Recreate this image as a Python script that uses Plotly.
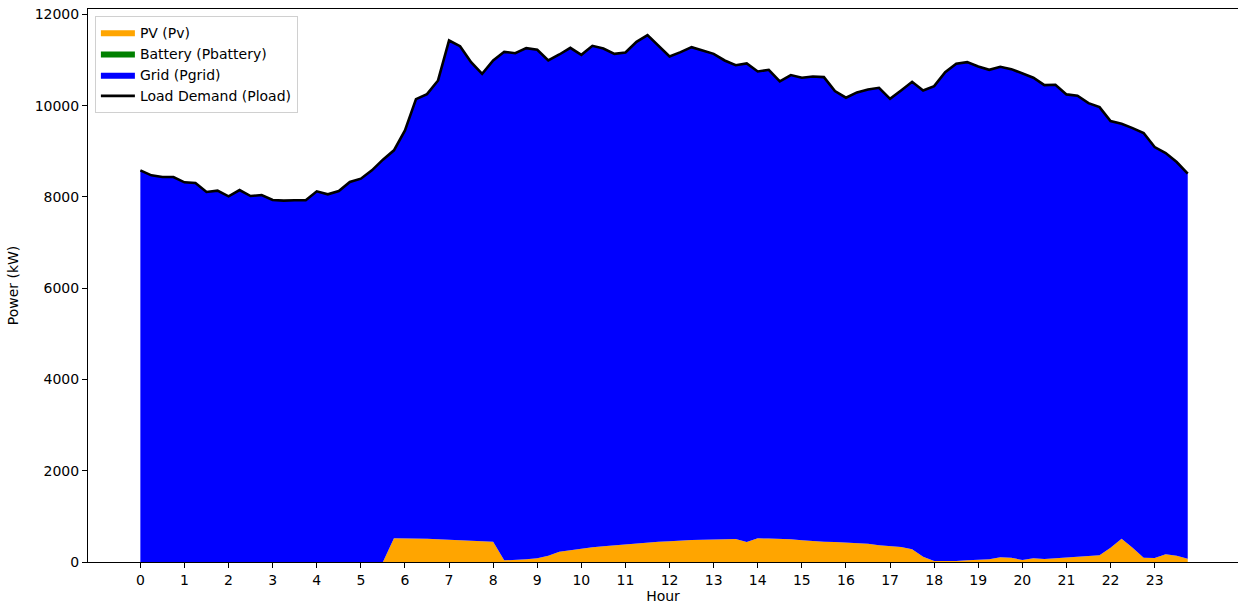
import plotly.graph_objects as go

# Time axis: 15-minute steps over one day (hours)
hours = [i * 0.25 for i in range(96)]

# Load demand (kW)
p_load = [
    8583, 8474, 8437, 8437, 8321, 8306, 8109, 8138,
    8014, 8152, 8021, 8043, 7934, 7920, 7927, 7927,
    8124, 8058, 8131, 8328, 8401, 8583, 8818, 9022,
    9459, 10145, 10254, 10554, 11430, 11305, 10955, 10700,
    10992, 11181, 11152, 11262, 11225, 10992, 11123, 11269,
    11116, 11313, 11254, 11137, 11167, 11400, 11546, 11305,
    11079, 11174, 11284, 11211, 11137, 10992, 10889, 10926,
    10751, 10788, 10532, 10671, 10613, 10642, 10627, 10320,
    10175, 10291, 10357, 10393, 10150, 10335, 10525, 10335,
    10430, 10737, 10919, 10955, 10861, 10788, 10853, 10802,
    10700, 10613, 10452, 10460, 10248, 10218, 10057, 9970,
    9663, 9605, 9510, 9401, 9094, 8963, 8766, 8511,
]

# PV output (kW)
p_pv = [
    0, 0, 0, 0, 0, 0, 0, 0,
    0, 0, 0, 0, 0, 0, 0, 0,
    0, 0, 0, 0, 0, 0, 0, 518,
    518, 518, 511, 500, 489, 478, 467, 456,
    445, 36, 44, 58, 80, 139, 226, 263,
    299, 321, 343, 365, 387, 409, 423, 442,
    453, 471, 482, 489, 496, 493, 504, 438,
    518, 515, 511, 496, 474, 456, 445, 438,
    431, 416, 401, 365, 340, 329, 277, 117,
    22, 15, 22, 36, 51, 58, 102, 95,
    44, 80, 66, 80, 88, 102, 131, 146,
    314, 511, 314, 95, 88, 168, 139, 73,
]

# Battery power (kW)
p_battery = [
    0, 0, 0, 0, 0, 0, 0, 0, 0, 0, 0, 0, 0, 0, 0, 0,
    0, 0, 0, 0, 0, 0, 0, 0, 0, 0, 0, 0, 0, 0, 0, 0,
    0, 0, 0, 0, 0, 0, 0, 0, 0, 0, 0, 0, 0, 0, 0, 0,
    0, 0, 0, 0, 0, 0, 0, 0, 0, 0, 0, 0, 0, 0, 0, 0,
    0, 0, 0, 0, 0, 0, 0, 0, 0, 0, 0, 0, 0, 0, 0, 0,
    0, 0, 0, 0, 0, 0, 0, 0, 0, 0, 0, 0, 0, 0, 0, 0,
]

# Grid import covers the remainder of the load
p_grid = [l - pv - b for l, pv, b in zip(p_load, p_pv, p_battery)]

hour_ticks = list(range(24))
power_ticks = [0, 2000, 4000, 6000, 8000, 10000, 12000]

font_family = "DejaVu Sans"
font_size = 14

fig = go.Figure()

for name, values, color in [
    ("PV (Pv)", p_pv, "orange"),
    ("Battery (Pbattery)", p_battery, "green"),
    ("Grid (Pgrid)", p_grid, "blue"),
]:
    fig.add_trace(go.Scatter(
        x=hours, y=values, name=name,
        mode="lines", stackgroup="supply",
        line=dict(width=0, color=color),
        fillcolor=color,
    ))

fig.add_trace(go.Scatter(
    x=hours, y=p_load, name="Load Demand (Pload)",
    mode="lines", line=dict(color="black", width=2.6),
))

axis_common = dict(
    showgrid=False, zeroline=False,
    showline=True, linecolor="black", linewidth=1, mirror=True,
    ticks="outside", ticklen=5, tickwidth=1, tickcolor="black",
    tickfont=dict(family=font_family, size=font_size, color="black"),
)

fig.update_layout(
    width=1238, height=607,
    margin=dict(l=88, r=0, t=9, b=45),
    paper_bgcolor="white", plot_bgcolor="white",
    font=dict(family=font_family, size=font_size, color="black"),
    showlegend=True,
    legend=dict(
        x=0.006, y=0.988, xanchor="left", yanchor="top",
        bgcolor="rgba(255,255,255,0.8)",
        bordercolor="#d0d0d0", borderwidth=1,
        font=dict(family=font_family, size=font_size, color="black"),
        traceorder="normal",
        itemwidth=34,
        tracegroupgap=0,
    ),
)

fig.update_xaxes(
    range=[-1.1875, 24.89],
    tickmode="array", tickvals=hour_ticks,
    ticktext=[str(h) for h in hour_ticks],
    title=dict(text="Hour", font=dict(family=font_family, size=font_size), standoff=4),
    **axis_common,
)
fig.update_yaxes(
    range=[0, 12120],
    tickmode="array", tickvals=power_ticks,
    ticktext=[str(v) for v in power_ticks],
    title=dict(text="Power (kW)", font=dict(family=font_family, size=font_size), standoff=12),
    **axis_common,
)

fig.write_html("out.html")
